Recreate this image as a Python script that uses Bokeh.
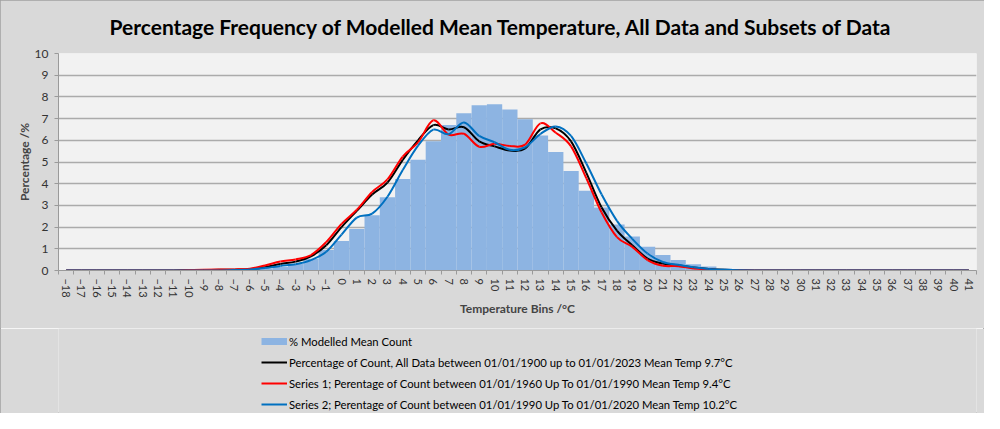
import math
import numpy as np
from bokeh.plotting import figure
from bokeh.layouts import column
from bokeh.models import FixedTicker, Legend, LegendItem, Range1d, ColumnDataSource
from bokeh.embed import file_html
from bokeh.resources import INLINE

# ---------------- data ----------------
bins = list(range(-18, 42))

modelled_pct = [0, 0, 0, 0, 0, 0, 0, 0, 0, 0, 0,          # -18..-8
                0.01, 0.03, 0.07, 0.16, 0.30, 0.54, 0.95,  # -7..-1
                1.36, 1.91, 2.55, 3.38, 4.22, 5.10, 5.96, 6.71, 7.25, 7.62,  # 0..9
                7.66, 7.42, 6.97, 6.22, 5.46, 4.58, 3.68, 2.90, 2.12, 1.57,  # 10..19
                1.09, 0.72, 0.48, 0.29, 0.18, 0.09, 0.05, 0.02, 0, 0,        # 20..29
                0, 0, 0, 0, 0, 0, 0, 0, 0, 0, 0, 0]                          # 30..41

all_data_pct = [0, 0, 0, 0, 0, 0, 0, 0,                     # -18..-11
                0.01, 0.02, 0.03, 0.04, 0.06, 0.15, 0.30, 0.41, 0.65, 1.16,  # -10..-1
                2.00, 2.75, 3.50, 4.05, 5.10, 6.00, 6.70, 6.50, 6.60, 5.95,  # 0..9
                5.72, 5.53, 5.62, 6.50, 6.55, 5.95, 4.50, 2.90, 1.84, 1.16,  # 10..19
                0.55, 0.32, 0.24, 0.14, 0.07, 0.03, 0.01, 0, 0, 0,          # 20..29
                0, 0, 0, 0, 0, 0, 0, 0, 0, 0, 0, 0]                          # 30..41

series1_pct = [0, 0, 0, 0, 0, 0, 0, 0,                      # -18..-11
               0.02, 0.04, 0.05, 0.05, 0.08, 0.23, 0.41, 0.51, 0.71, 1.31,  # -10..-1
               2.15, 2.80, 3.62, 4.20, 5.25, 5.90, 6.92, 6.26, 6.30, 5.70,  # 0..9
               5.84, 5.74, 5.80, 6.78, 6.35, 5.72, 4.25, 2.67, 1.54, 1.09,  # 10..19
               0.48, 0.22, 0.20, 0.09, 0.05, 0.02, 0.01, 0, 0, 0,          # 20..29
               0, 0, 0, 0, 0, 0, 0, 0, 0, 0, 0, 0]                          # 30..41

series2_pct = [0, 0, 0, 0, 0, 0, 0, 0,                      # -18..-11
               0, 0, 0, 0.02, 0.05, 0.11, 0.21, 0.29, 0.48, 0.86,            # -10..-1
               1.65, 2.44, 2.62, 3.40, 4.63, 5.75, 6.49, 6.28, 6.82, 6.20,  # 0..9
               5.91, 5.56, 5.68, 6.29, 6.64, 6.20, 4.93, 3.50, 2.29, 1.46,  # 10..19
               0.78, 0.39, 0.26, 0.15, 0.07, 0.03, 0.01, 0, 0, 0,          # 20..29
               0, 0, 0, 0, 0, 0, 0, 0, 0, 0, 0, 0]                          # 30..41

y_ticks = list(range(0, 11))

title_text = "Percentage Frequency of Modelled Mean Temperature, All Data and Subsets of Data"
x_title = "Temperature Bins /°C"
y_title = "Percentage /%"
labels = ["% Modelled Mean Count",
          "Percentage of Count, All Data between 01/01/1900 up to 01/01/2023 Mean Temp 9.7°C",
          "Series 1; Perentage of Count between 01/01/1960 Up To 01/01/1990 Mean Temp 9.4°C",
          "Series 2; Perentage of Count between 01/01/1990 Up To 01/01/2020 Mean Temp 10.2°C"]

series_colors = ["#8DB4E2", "#000000", "#FF0000", "#0070C0"]

FONT = "Lato"
BG = "#D9D9D9"


def smooth_source(xs, ys):
    """Excel-style smoothed line: cubic Bezier segments through the data points."""
    x = np.asarray(xs, dtype=float)
    y = np.asarray(ys, dtype=float)
    xp = np.concatenate([[x[0]], x, [x[-1]]])
    yp = np.concatenate([[y[0]], y, [y[-1]]])
    n = len(x)
    i = np.arange(n - 1)
    x0, y0 = xp[i + 1], yp[i + 1]
    x1, y1 = xp[i + 2], yp[i + 2]
    cx0 = x0 + (xp[i + 2] - xp[i]) / 6.0
    cy0 = y0 + (yp[i + 2] - yp[i]) / 6.0
    cx1 = x1 - (xp[i + 3] - xp[i + 1]) / 6.0
    cy1 = y1 - (yp[i + 3] - yp[i + 1]) / 6.0
    return ColumnDataSource(dict(x0=x0, y0=y0, x1=x1, y1=y1,
                                 cx0=cx0, cy0=cy0, cx1=cx1, cy1=cy1))


BZ = dict(x0="x0", y0="y0", x1="x1", y1="y1", cx0="cx0", cy0="cy0", cx1="cx1", cy1="cy1")

# ---------------- main chart ----------------
p = figure(width=984, height=328, output_backend="svg", toolbar_location=None,
           x_range=Range1d(bins[0] - 0.5, bins[-1] + 0.5), y_range=Range1d(0, 10),
           min_border_left=58, min_border_right=8, min_border_top=53,
           min_border_bottom=58)

p.background_fill_color = "#F2F2F2"
p.border_fill_color = BG
p.outline_line_color = None

p.title.text = title_text
p.title.text_font = FONT
p.title.text_font_style = "bold"
p.title.text_font_size = "21px"
p.title.text_color = "#000000"
p.title.align = "left"
p.title.vertical_align = "top"
p.title.offset = 51
p.title.standoff = 26

# grid
p.xgrid.visible = False
p.ygrid.grid_line_color = "#ABABAB"
p.ygrid.grid_line_width = 1.5
p.ygrid.ticker = FixedTicker(ticks=y_ticks)

# y axis
yax = p.yaxis[0]
yax.ticker = FixedTicker(ticks=y_ticks)
yax.axis_label = y_title
yax.axis_label_text_font = FONT
yax.axis_label_text_font_style = "bold"
yax.axis_label_text_font_size = "12px"
yax.axis_label_standoff = 0
yax.major_label_text_font = FONT
yax.major_label_text_font_size = "12px"
yax.major_label_text_color = "#333333"
yax.major_label_standoff = 6
yax.axis_line_color = "#9A9A9A"
yax.major_tick_line_color = "#9A9A9A"
yax.major_tick_out = 4
yax.major_tick_in = 0
yax.minor_tick_line_color = None

# x axis
xax = p.xaxis[0]
xax.ticker = FixedTicker(ticks=bins, minor_ticks=[b - 0.5 for b in bins] + [bins[-1] + 0.5])
xax.axis_label = x_title
xax.axis_label_text_font = FONT
xax.axis_label_text_font_style = "bold"
xax.axis_label_text_font_size = "12px"
xax.axis_label_standoff = 0
xax.major_label_text_font = FONT
xax.major_label_text_font_size = "11px"
xax.major_label_text_color = "#333333"
xax.major_label_standoff = 4
xax.major_label_orientation = -math.pi / 2
xax.major_tick_line_color = None
xax.major_tick_out = 4
xax.minor_tick_line_color = "#9A9A9A"
xax.minor_tick_out = 4
xax.minor_tick_in = 0
xax.axis_line_color = "#9A9A9A"

# bars
p.vbar(x=bins, top=modelled_pct, width=1.0, fill_color=series_colors[0], line_color=None)

# smoothed lines
p.bezier(source=smooth_source(bins, all_data_pct), line_color=series_colors[1], line_width=2, **BZ)
p.bezier(source=smooth_source(bins, series1_pct), line_color=series_colors[2], line_width=2, **BZ)
p.bezier(source=smooth_source(bins, series2_pct), line_color=series_colors[3], line_width=2, **BZ)

# ---------------- legend strip below the chart ----------------
lg = figure(width=984, height=85, output_backend="svg", toolbar_location=None,
            x_range=Range1d(bins[0] - 0.5, bins[-1] + 0.5), y_range=Range1d(0, 10),
            x_axis_type=None, y_axis_type=None, min_border=0)
lg.background_fill_color = BG
lg.border_fill_color = BG
lg.outline_line_color = None
lg.grid.visible = False

# hidden renderers that only provide the legend keys
k_bar = lg.line(x=bins, y=modelled_pct, line_color=series_colors[0], line_width=7,
                line_cap="butt", visible=False)
k_all = lg.bezier(source=smooth_source(bins, all_data_pct), line_color=series_colors[1],
                  line_width=2, visible=False, **BZ)
k_s1 = lg.bezier(source=smooth_source(bins, series1_pct), line_color=series_colors[2],
                 line_width=2, visible=False, **BZ)
k_s2 = lg.bezier(source=smooth_source(bins, series2_pct), line_color=series_colors[3],
                 line_width=2, visible=False, **BZ)

legend = Legend(items=[LegendItem(label=labels[0], renderers=[k_bar]),
                       LegendItem(label=labels[1], renderers=[k_all]),
                       LegendItem(label=labels[2], renderers=[k_s1]),
                       LegendItem(label=labels[3], renderers=[k_s2])],
                location=(203, -1), orientation="vertical", click_policy="none",
                background_fill_alpha=0, border_line_color=None,
                inactive_fill_alpha=0,
                label_text_font=FONT, label_text_font_size="11.3px", label_text_color="#000000",
                glyph_width=26, glyph_height=20, label_height=20, spacing=1,
                padding=0, margin=0, label_standoff=2)
lg.add_layout(legend)

layout = column(p, lg, spacing=0)
layout.styles = {"outline": "1px solid #A0A0A0", "outline-offset": "-1px"}

open("out.html", "w").write(file_html(layout, INLINE))
